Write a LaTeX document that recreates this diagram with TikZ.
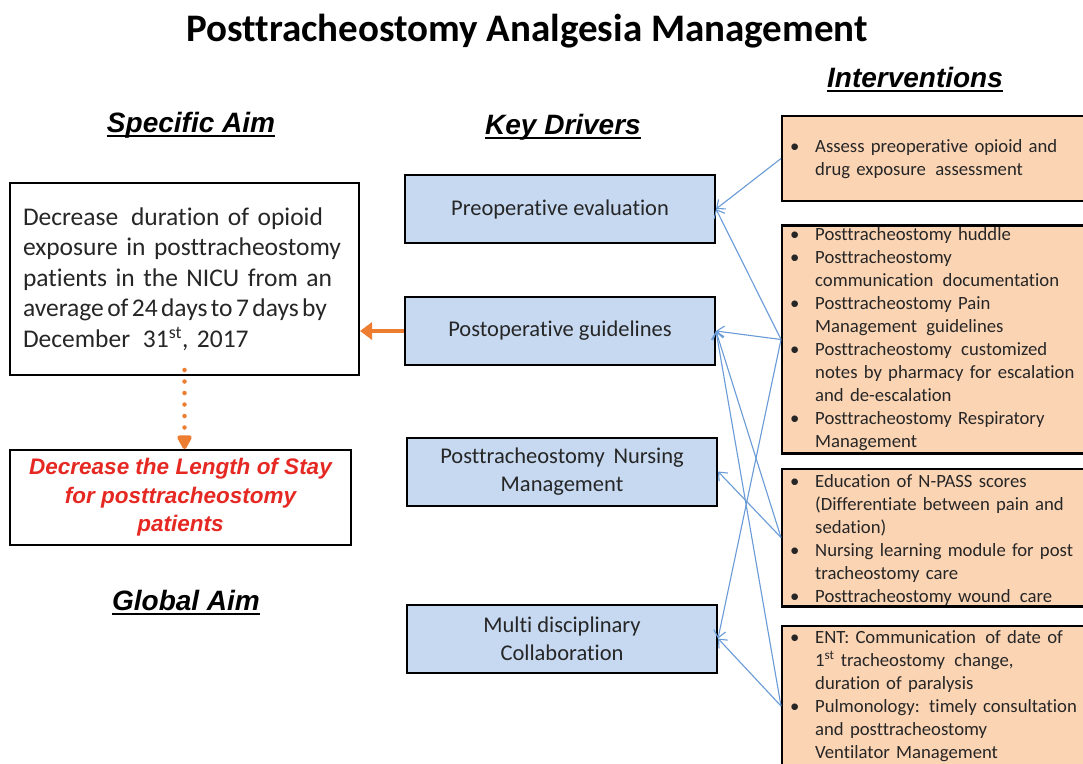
\documentclass[tikz,border=0pt]{standalone}
\usepackage{fontspec}
\setmainfont{Carlito}[Ligatures=NoCommon]
\newfontfamily\arialf{Liberation Sans}
\usetikzlibrary{arrows.meta}
\definecolor{drvfill}{HTML}{C6D9F1}
\definecolor{intfill}{HTML}{FBD4B4}
\definecolor{connc}{RGB}{105,155,215}
\definecolor{orng}{RGB}{237,125,49}
\definecolor{redtxt}{RGB}{230,40,35}
\definecolor{txt}{HTML}{262626}
\newcommand\hdr[1]{\setbox0\hbox{#1}\rlap{\usebox0}\rule[-4.5pt]{\wd0}{2.2pt}}
\newcommand\bul{\makebox[26pt][l]{\hspace{1pt}\textbullet}}
\newcommand\ind{\hspace*{26pt}}
\begin{document}
\begin{tikzpicture}[x=1pt,y=-1pt,
  box/.style={draw=black, line width=2pt, inner sep=0pt},
  drv/.style={box, fill=drvfill, minimum width=310pt, minimum height=68pt,
    font=\fontsize{22.5}{28}\selectfont, text=txt, align=center},
  intbox/.style={box, fill=intfill, minimum width=320pt, anchor=north west},
  inttext/.style={anchor=base west, inner sep=0pt, text width=300pt, align=left,
    font=\fontsize{18.7}{23}\selectfont, text=txt},
  hdrstyle/.style={font=\arialf\bfseries\itshape\fontsize{28}{32}\selectfont, inner sep=0pt},
  connarrow/.style={draw=connc, line width=1.1pt, -{Straight Barb[length=7pt,width=12pt]}},
  orangearrow/.style={draw=orng, line width=4pt, -{Triangle[length=12pt,width=17pt]}},
  orangedots/.style={draw=orng, line width=4.5pt, line cap=round, dash pattern=on 0pt off 11.5pt,
    -{Triangle[length=16pt,width=16pt,round]}}
]
\useasboundingbox (0,0) rectangle (1083,763);
\clip (0,0) rectangle (1083,763);
\fill[white] (0,0) rectangle (1083,763);

% title
\node[font=\fontsize{39}{44}\bfseries\selectfont] (title) at (527,31) {Posttracheostomy Analgesia Management};

% headers
\node[hdrstyle] (hspec) at (191,125) {\hdr{Specific Aim}};
\node[hdrstyle] (hkey) at (563,127) {\hdr{Key Drivers}};
\node[hdrstyle] (hglob) at (186,603) {\hdr{Global Aim}};
\node[hdrstyle] (hint) at (915,80) {\hdr{Interventions}};

% aims
\node[box, fill=white, minimum width=349pt, minimum height=192pt, text width=323pt, align=left,
  font=\fontsize{25.5}{30.5}\selectfont, text=txt] (spec) at (184.5,279)
  {\mbox{Decrease\, duration of opioid}\\\mbox{exposure in posttracheostomy}\\\mbox{patients in the NICU from an}\\\mbox{\spaceskip=3.4pt\relax average of 24 days to 7 days by}\\\mbox{December\, 31\textsuperscript{st}, 2017}};
\node[box, fill=white, minimum width=341pt, minimum height=95pt, align=center,
  font=\arialf\bfseries\itshape\fontsize{22.5}{28.5}\selectfont, text=redtxt] (glob) at (180.5,497.5)
  {Decrease the Length of Stay\\for posttracheostomy\\patients};

% key drivers
\node[drv] (pre) at (560,209) {Preoperative evaluation};
\node[drv] (post) at (560,331) {Postoperative guidelines};
\node[drv] (nurs) at (562,471.5) {Posttracheostomy\, Nursing\\Management};
\node[drv] (multi) at (562,638.5) {Multi disciplinary\\Collaboration};

% intervention boxes
\node[intbox, minimum height=85pt] (i1) at (781,115) {};
\node[intbox, minimum height=227pt] (i2) at (781,225) {};
\node[intbox, minimum height=137pt] (i3) at (781,468) {};
\node[intbox, minimum height=160pt] (i4) at (781,625) {};

\node[inttext] (t1) at (789,152) {\bul Assess preoperative opioid and\\\ind drug exposure\, assessment};
\node[inttext] (t2) at (789,240) {\bul Posttracheostomy huddle\\\bul Posttracheostomy\\\ind communication\, documentation\\\bul Posttracheostomy Pain\\\ind Management\, guidelines\\\bul Posttracheostomy\, customized\\\ind notes by pharmacy for escalation\\\ind and de-escalation\\\bul Posttracheostomy Respiratory\\\ind Management};
\node[inttext] (t3) at (789,487) {\bul Education of N-PASS scores\\\ind (Differentiate between pain and\\\ind sedation)\\\bul Nursing learning module for post\\\ind tracheostomy care\\\bul Posttracheostomy wound\, care};
\node[inttext] (t4) at (789,643) {\bul ENT: Communication\, of date of\\\ind 1\textsuperscript{st} tracheostomy\, change,\\\ind duration of paralysis\\\bul Pulmonology: timely consultation\\\ind and posttracheostomy\\\ind Ventilator Management};

% redraw borders over overflowing text
\draw[line width=2pt] (i2.south west) -- ++(320,0);
\draw[line width=2pt] (i3.south west) -- ++(320,0);
\draw[line width=2pt] (i2.north west) -- ++(320,0);

% connectors
\draw[connarrow] (i1.west) -- (pre.east);
\draw[connarrow] (i2.west) -- (pre.east);
\draw[connarrow] (i2.west) -- (post.east);
\draw[connarrow] (i2.west) -- (multi.east);
\draw[connarrow] (i3.west) -- (nurs.east);
\draw[connarrow] (i3.west) -- (post.east);
\draw[connarrow] (i4.west) -- (multi.east);
\draw[connarrow] (i4.west) -- (post.east);

\draw[orangearrow] (post.west) -- (post.west -| spec.east);
\draw[orangedots] ([yshift=6pt]spec.south) -- (spec.south |- glob.north);
\end{tikzpicture}
\end{document}
